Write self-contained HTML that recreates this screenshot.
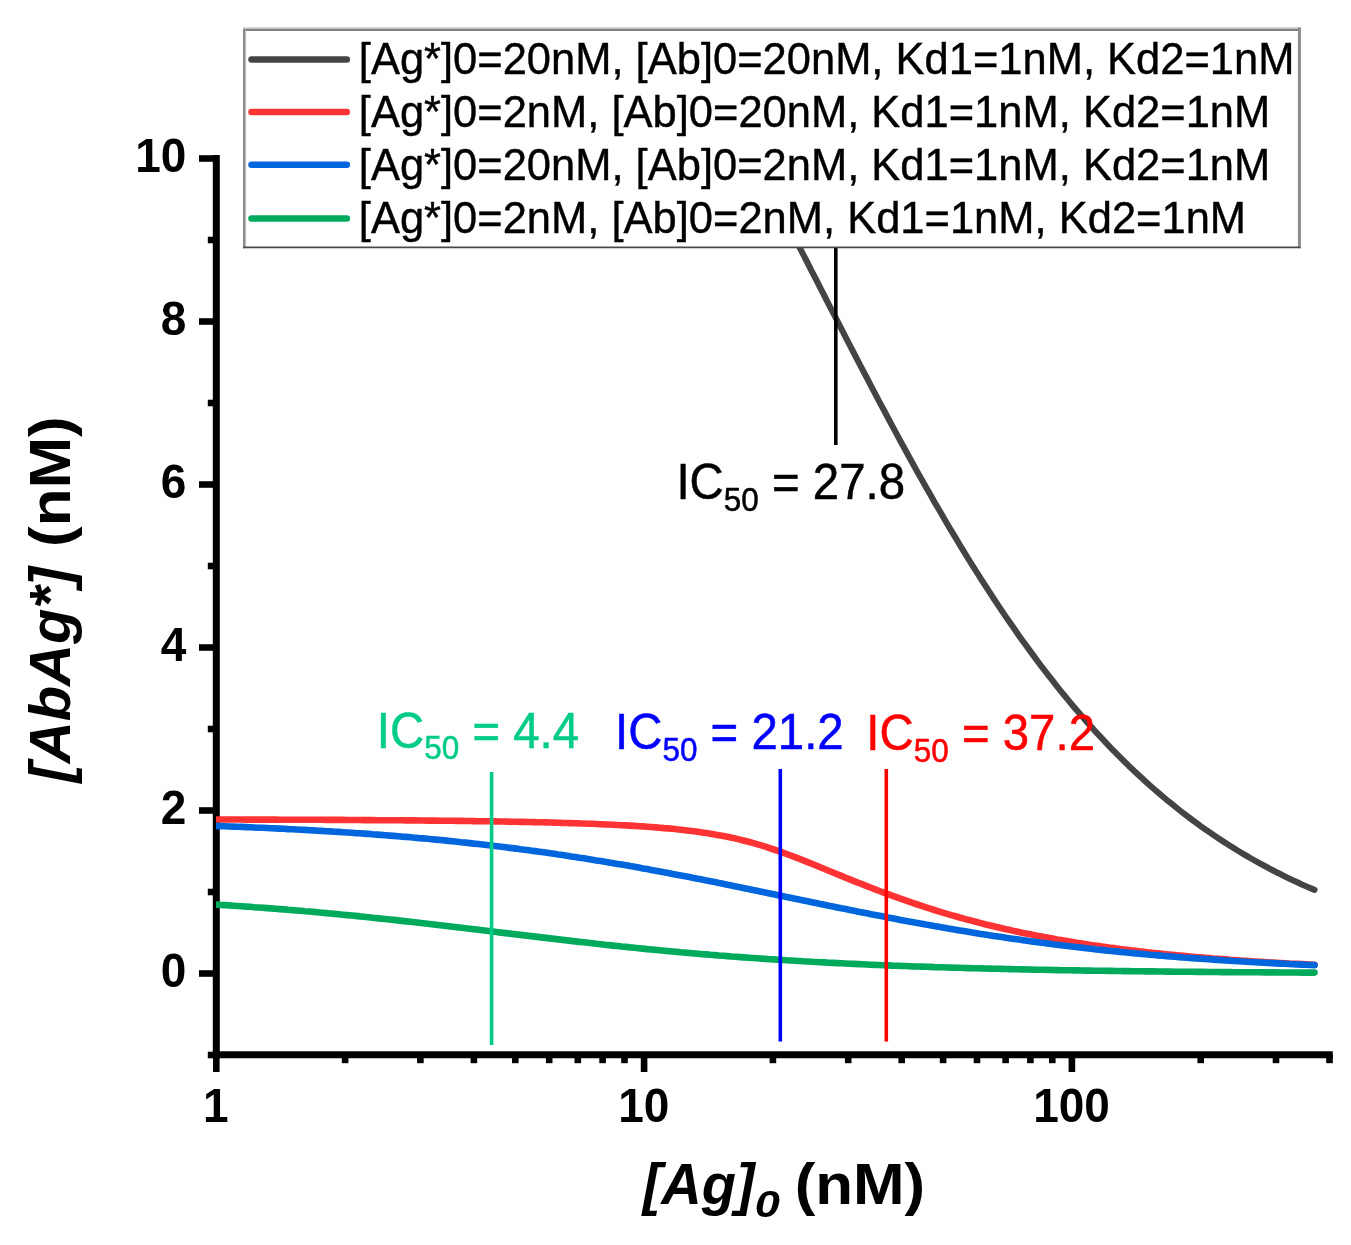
<!DOCTYPE html>
<html lang="en"><head><meta charset="utf-8"><title>Competitive binding curves</title>
<style>
html,body{margin:0;padding:0;background:#fff;}
body{width:1351px;height:1245px;overflow:hidden;}
svg{display:block;}
text{font-family:"Liberation Sans",sans-serif;}
.tk{font-weight:bold;font-size:46px;fill:#000;}
.lg{font-size:43.5px;fill:#000;}
.an{font-size:47.4px;}
.sub{font-size:31.5px;}
.ttl{font-weight:bold;fill:#000;}
.it{font-style:italic;}
</style></head><body>
<svg width="1351" height="1245" viewBox="0 0 1351 1245">
<rect width="1351" height="1245" fill="#fff"/>
<g stroke="#000" fill="none">
<line x1="216.3" y1="155" x2="216.3" y2="1058.3" stroke-width="7"/>
<line x1="212.8" y1="1054.8" x2="1332.8" y2="1054.8" stroke-width="7"/>
<line x1="207.8" y1="1055.0" x2="216.3" y2="1055.0" stroke-width="6.6"/>
<line x1="199" y1="973.5" x2="216.3" y2="973.5" stroke-width="6.6"/>
<line x1="207.8" y1="892.0" x2="216.3" y2="892.0" stroke-width="6.6"/>
<line x1="199" y1="810.5" x2="216.3" y2="810.5" stroke-width="6.6"/>
<line x1="207.8" y1="729.0" x2="216.3" y2="729.0" stroke-width="6.6"/>
<line x1="199" y1="647.5" x2="216.3" y2="647.5" stroke-width="6.6"/>
<line x1="207.8" y1="566.0" x2="216.3" y2="566.0" stroke-width="6.6"/>
<line x1="199" y1="484.5" x2="216.3" y2="484.5" stroke-width="6.6"/>
<line x1="207.8" y1="403.0" x2="216.3" y2="403.0" stroke-width="6.6"/>
<line x1="199" y1="321.5" x2="216.3" y2="321.5" stroke-width="6.6"/>
<line x1="207.8" y1="240.0" x2="216.3" y2="240.0" stroke-width="6.6"/>
<line x1="199" y1="158.5" x2="216.3" y2="158.5" stroke-width="6.6"/>
<line x1="216.3" y1="1054.8" x2="216.3" y2="1072" stroke-width="6.6"/>
<line x1="345.1" y1="1054.8" x2="345.1" y2="1063.2" stroke-width="6.6"/>
<line x1="420.4" y1="1054.8" x2="420.4" y2="1063.2" stroke-width="6.6"/>
<line x1="473.9" y1="1054.8" x2="473.9" y2="1063.2" stroke-width="6.6"/>
<line x1="515.3" y1="1054.8" x2="515.3" y2="1063.2" stroke-width="6.6"/>
<line x1="549.2" y1="1054.8" x2="549.2" y2="1063.2" stroke-width="6.6"/>
<line x1="577.8" y1="1054.8" x2="577.8" y2="1063.2" stroke-width="6.6"/>
<line x1="602.6" y1="1054.8" x2="602.6" y2="1063.2" stroke-width="6.6"/>
<line x1="624.5" y1="1054.8" x2="624.5" y2="1063.2" stroke-width="6.6"/>
<line x1="644.1" y1="1054.8" x2="644.1" y2="1072" stroke-width="6.6"/>
<line x1="772.9" y1="1054.8" x2="772.9" y2="1063.2" stroke-width="6.6"/>
<line x1="848.2" y1="1054.8" x2="848.2" y2="1063.2" stroke-width="6.6"/>
<line x1="901.7" y1="1054.8" x2="901.7" y2="1063.2" stroke-width="6.6"/>
<line x1="943.1" y1="1054.8" x2="943.1" y2="1063.2" stroke-width="6.6"/>
<line x1="977.0" y1="1054.8" x2="977.0" y2="1063.2" stroke-width="6.6"/>
<line x1="1005.6" y1="1054.8" x2="1005.6" y2="1063.2" stroke-width="6.6"/>
<line x1="1030.4" y1="1054.8" x2="1030.4" y2="1063.2" stroke-width="6.6"/>
<line x1="1052.3" y1="1054.8" x2="1052.3" y2="1063.2" stroke-width="6.6"/>
<line x1="1071.9" y1="1054.8" x2="1071.9" y2="1072" stroke-width="6.6"/>
<line x1="1200.7" y1="1054.8" x2="1200.7" y2="1063.2" stroke-width="6.6"/>
<line x1="1276.0" y1="1054.8" x2="1276.0" y2="1063.2" stroke-width="6.6"/>
<line x1="1329.5" y1="1054.8" x2="1329.5" y2="1063.2" stroke-width="6.6"/>
</g>
<defs><clipPath id="cp"><rect x="215.9" y="150" width="1130" height="905"/></clipPath></defs>
<g fill="none" stroke-width="6.6" stroke-linecap="round" stroke-linejoin="round" clip-path="url(#cp)">
<path stroke="#444" stroke-width="6.1" d="M216.3,-300.8 L220.5,-300.1 L224.7,-299.4 L229.0,-298.7 L233.2,-297.9 L237.4,-297.1 L241.6,-296.4 L245.9,-295.6 L250.1,-294.7 L254.3,-293.9 L258.5,-293.0 L262.8,-292.1 L267.0,-291.2 L271.2,-290.3 L275.4,-289.4 L279.7,-288.4 L283.9,-287.4 L288.1,-286.4 L292.3,-285.3 L296.6,-284.3 L300.8,-283.2 L305.0,-282.0 L309.2,-280.9 L313.4,-279.7 L317.7,-278.5 L321.9,-277.3 L326.1,-276.0 L330.3,-274.7 L334.6,-273.4 L338.8,-272.0 L343.0,-270.7 L347.2,-269.2 L351.5,-267.8 L355.7,-266.3 L359.9,-264.8 L364.1,-263.2 L368.4,-261.6 L372.6,-260.0 L376.8,-258.3 L381.0,-256.6 L385.2,-254.8 L389.5,-253.0 L393.7,-251.2 L397.9,-249.3 L402.1,-247.3 L406.4,-245.4 L410.6,-243.3 L414.8,-241.3 L419.0,-239.1 L423.3,-237.0 L427.5,-234.7 L431.7,-232.5 L435.9,-230.1 L440.2,-227.8 L444.4,-225.3 L448.6,-222.8 L452.8,-220.3 L457.1,-217.7 L461.3,-215.0 L465.5,-212.3 L469.7,-209.5 L473.9,-206.6 L478.2,-203.7 L482.4,-200.7 L486.6,-197.6 L490.8,-194.5 L495.1,-191.3 L499.3,-188.0 L503.5,-184.7 L507.7,-181.3 L512.0,-177.8 L516.2,-174.3 L520.4,-170.6 L524.6,-166.9 L528.9,-163.1 L533.1,-159.2 L537.3,-155.3 L541.5,-151.3 L545.8,-147.2 L550.0,-143.0 L554.2,-138.7 L558.4,-134.3 L562.6,-129.9 L566.9,-125.3 L571.1,-120.7 L575.3,-116.0 L579.5,-111.2 L583.8,-106.3 L588.0,-101.4 L592.2,-96.3 L596.4,-91.1 L600.7,-85.9 L604.9,-80.6 L609.1,-75.2 L613.3,-69.7 L617.6,-64.1 L621.8,-58.4 L626.0,-52.6 L630.2,-46.7 L634.5,-40.8 L638.7,-34.7 L642.9,-28.6 L647.1,-22.4 L651.3,-16.1 L655.6,-9.7 L659.8,-3.2 L664.0,3.3 L668.2,10.0 L672.5,16.7 L676.7,23.5 L680.9,30.3 L685.1,37.3 L689.4,44.3 L693.6,51.4 L697.8,58.6 L702.0,65.8 L706.3,73.1 L710.5,80.5 L714.7,87.9 L718.9,95.4 L723.1,103.0 L727.4,110.6 L731.6,118.3 L735.8,126.0 L740.0,133.8 L744.3,141.6 L748.5,149.5 L752.7,157.4 L756.9,165.3 L761.2,173.3 L765.4,181.4 L769.6,189.4 L773.8,197.5 L778.1,205.6 L782.3,213.8 L786.5,222.0 L790.7,230.1 L795.0,238.3 L799.2,246.6 L803.4,254.8 L807.6,263.0 L811.8,271.3 L816.1,279.5 L820.3,287.8 L824.5,296.0 L828.7,304.3 L833.0,312.5 L837.2,320.7 L841.4,328.9 L845.6,337.1 L849.9,345.3 L854.1,353.5 L858.3,361.6 L862.5,369.7 L866.8,377.8 L871.0,385.8 L875.2,393.9 L879.4,401.9 L883.7,409.8 L887.9,417.7 L892.1,425.6 L896.3,433.4 L900.5,441.2 L904.8,449.0 L909.0,456.7 L913.2,464.3 L917.4,471.9 L921.7,479.4 L925.9,486.9 L930.1,494.3 L934.3,501.7 L938.6,509.0 L942.8,516.3 L947.0,523.5 L951.2,530.6 L955.5,537.7 L959.7,544.7 L963.9,551.6 L968.1,558.5 L972.4,565.3 L976.6,572.0 L980.8,578.6 L985.0,585.2 L989.2,591.7 L993.5,598.2 L997.7,604.6 L1001.9,610.9 L1006.1,617.1 L1010.4,623.3 L1014.6,629.3 L1018.8,635.4 L1023.0,641.3 L1027.3,647.1 L1031.5,652.9 L1035.7,658.6 L1039.9,664.3 L1044.2,669.8 L1048.4,675.3 L1052.6,680.7 L1056.8,686.1 L1061.0,691.3 L1065.3,696.5 L1069.5,701.6 L1073.7,706.7 L1077.9,711.6 L1082.2,716.5 L1086.4,721.4 L1090.6,726.1 L1094.8,730.8 L1099.1,735.4 L1103.3,739.9 L1107.5,744.4 L1111.7,748.8 L1116.0,753.1 L1120.2,757.4 L1124.4,761.5 L1128.6,765.7 L1132.9,769.7 L1137.1,773.7 L1141.3,777.6 L1145.5,781.5 L1149.7,785.3 L1154.0,789.0 L1158.2,792.6 L1162.4,796.2 L1166.6,799.8 L1170.9,803.2 L1175.1,806.6 L1179.3,810.0 L1183.5,813.3 L1187.8,816.5 L1192.0,819.7 L1196.2,822.8 L1200.4,825.9 L1204.7,828.9 L1208.9,831.8 L1213.1,834.7 L1217.3,837.6 L1221.6,840.4 L1225.8,843.1 L1230.0,845.8 L1234.2,848.4 L1238.4,851.0 L1242.7,853.6 L1246.9,856.0 L1251.1,858.5 L1255.3,860.9 L1259.6,863.2 L1263.8,865.5 L1268.0,867.8 L1272.2,870.0 L1276.5,872.2 L1280.7,874.3 L1284.9,876.4 L1289.1,878.5 L1293.4,880.5 L1297.6,882.4 L1301.8,884.4 L1306.0,886.3 L1310.3,888.1 L1314.5,889.9"/>
<path stroke="#ff3333" d="M216.3,819.5 L220.5,819.5 L224.7,819.5 L229.0,819.5 L233.2,819.5 L237.4,819.5 L241.6,819.5 L245.9,819.6 L250.1,819.6 L254.3,819.6 L258.5,819.6 L262.8,819.6 L267.0,819.6 L271.2,819.6 L275.4,819.6 L279.7,819.7 L283.9,819.7 L288.1,819.7 L292.3,819.7 L296.6,819.7 L300.8,819.7 L305.0,819.8 L309.2,819.8 L313.4,819.8 L317.7,819.8 L321.9,819.8 L326.1,819.9 L330.3,819.9 L334.6,819.9 L338.8,819.9 L343.0,819.9 L347.2,820.0 L351.5,820.0 L355.7,820.0 L359.9,820.0 L364.1,820.1 L368.4,820.1 L372.6,820.1 L376.8,820.2 L381.0,820.2 L385.2,820.2 L389.5,820.2 L393.7,820.3 L397.9,820.3 L402.1,820.3 L406.4,820.4 L410.6,820.4 L414.8,820.4 L419.0,820.5 L423.3,820.5 L427.5,820.6 L431.7,820.6 L435.9,820.6 L440.2,820.7 L444.4,820.7 L448.6,820.8 L452.8,820.8 L457.1,820.9 L461.3,820.9 L465.5,821.0 L469.7,821.0 L473.9,821.1 L478.2,821.2 L482.4,821.2 L486.6,821.3 L490.8,821.3 L495.1,821.4 L499.3,821.5 L503.5,821.5 L507.7,821.6 L512.0,821.7 L516.2,821.8 L520.4,821.9 L524.6,821.9 L528.9,822.0 L533.1,822.1 L537.3,822.2 L541.5,822.3 L545.8,822.4 L550.0,822.5 L554.2,822.6 L558.4,822.7 L562.6,822.9 L566.9,823.0 L571.1,823.1 L575.3,823.2 L579.5,823.4 L583.8,823.5 L588.0,823.7 L592.2,823.8 L596.4,824.0 L600.7,824.2 L604.9,824.4 L609.1,824.5 L613.3,824.7 L617.6,825.0 L621.8,825.2 L626.0,825.4 L630.2,825.6 L634.5,825.9 L638.7,826.2 L642.9,826.4 L647.1,826.7 L651.3,827.0 L655.6,827.4 L659.8,827.7 L664.0,828.1 L668.2,828.4 L672.5,828.8 L676.7,829.3 L680.9,829.7 L685.1,830.2 L689.4,830.7 L693.6,831.2 L697.8,831.8 L702.0,832.4 L706.3,833.0 L710.5,833.7 L714.7,834.4 L718.9,835.2 L723.1,836.0 L727.4,836.8 L731.6,837.7 L735.8,838.6 L740.0,839.6 L744.3,840.7 L748.5,841.8 L752.7,842.9 L756.9,844.1 L761.2,845.4 L765.4,846.7 L769.6,848.1 L773.8,849.5 L778.1,850.9 L782.3,852.4 L786.5,854.0 L790.7,855.5 L795.0,857.1 L799.2,858.8 L803.4,860.4 L807.6,862.1 L811.8,863.8 L816.1,865.5 L820.3,867.3 L824.5,869.0 L828.7,870.7 L833.0,872.5 L837.2,874.2 L841.4,875.9 L845.6,877.7 L849.9,879.4 L854.1,881.1 L858.3,882.8 L862.5,884.4 L866.8,886.1 L871.0,887.8 L875.2,889.4 L879.4,891.0 L883.7,892.6 L887.9,894.2 L892.1,895.7 L896.3,897.2 L900.5,898.7 L904.8,900.2 L909.0,901.7 L913.2,903.1 L917.4,904.5 L921.7,905.9 L925.9,907.3 L930.1,908.7 L934.3,910.0 L938.6,911.3 L942.8,912.6 L947.0,913.8 L951.2,915.1 L955.5,916.3 L959.7,917.5 L963.9,918.6 L968.1,919.8 L972.4,920.9 L976.6,922.0 L980.8,923.1 L985.0,924.2 L989.2,925.2 L993.5,926.2 L997.7,927.2 L1001.9,928.2 L1006.1,929.2 L1010.4,930.1 L1014.6,931.1 L1018.8,932.0 L1023.0,932.9 L1027.3,933.7 L1031.5,934.6 L1035.7,935.4 L1039.9,936.2 L1044.2,937.0 L1048.4,937.8 L1052.6,938.6 L1056.8,939.4 L1061.0,940.1 L1065.3,940.8 L1069.5,941.5 L1073.7,942.2 L1077.9,942.9 L1082.2,943.6 L1086.4,944.2 L1090.6,944.9 L1094.8,945.5 L1099.1,946.1 L1103.3,946.7 L1107.5,947.3 L1111.7,947.9 L1116.0,948.4 L1120.2,949.0 L1124.4,949.5 L1128.6,950.0 L1132.9,950.5 L1137.1,951.0 L1141.3,951.5 L1145.5,952.0 L1149.7,952.5 L1154.0,953.0 L1158.2,953.4 L1162.4,953.9 L1166.6,954.3 L1170.9,954.7 L1175.1,955.1 L1179.3,955.5 L1183.5,955.9 L1187.8,956.3 L1192.0,956.7 L1196.2,957.1 L1200.4,957.4 L1204.7,957.8 L1208.9,958.1 L1213.1,958.5 L1217.3,958.8 L1221.6,959.1 L1225.8,959.4 L1230.0,959.8 L1234.2,960.1 L1238.4,960.4 L1242.7,960.7 L1246.9,960.9 L1251.1,961.2 L1255.3,961.5 L1259.6,961.8 L1263.8,962.0 L1268.0,962.3 L1272.2,962.5 L1276.5,962.8 L1280.7,963.0 L1284.9,963.2 L1289.1,963.5 L1293.4,963.7 L1297.6,963.9 L1301.8,964.1 L1306.0,964.3 L1310.3,964.5 L1314.5,964.7"/>
<path stroke="#0066dd" d="M216.3,826.0 L220.5,826.1 L224.7,826.3 L229.0,826.5 L233.2,826.6 L237.4,826.8 L241.6,826.9 L245.9,827.1 L250.1,827.3 L254.3,827.5 L258.5,827.7 L262.8,827.8 L267.0,828.0 L271.2,828.2 L275.4,828.4 L279.7,828.6 L283.9,828.8 L288.1,829.1 L292.3,829.3 L296.6,829.5 L300.8,829.7 L305.0,829.9 L309.2,830.2 L313.4,830.4 L317.7,830.7 L321.9,830.9 L326.1,831.2 L330.3,831.4 L334.6,831.7 L338.8,831.9 L343.0,832.2 L347.2,832.5 L351.5,832.8 L355.7,833.1 L359.9,833.3 L364.1,833.6 L368.4,833.9 L372.6,834.3 L376.8,834.6 L381.0,834.9 L385.2,835.2 L389.5,835.6 L393.7,835.9 L397.9,836.2 L402.1,836.6 L406.4,836.9 L410.6,837.3 L414.8,837.7 L419.0,838.1 L423.3,838.4 L427.5,838.8 L431.7,839.2 L435.9,839.6 L440.2,840.0 L444.4,840.4 L448.6,840.9 L452.8,841.3 L457.1,841.7 L461.3,842.2 L465.5,842.6 L469.7,843.1 L473.9,843.6 L478.2,844.0 L482.4,844.5 L486.6,845.0 L490.8,845.5 L495.1,846.0 L499.3,846.5 L503.5,847.0 L507.7,847.6 L512.0,848.1 L516.2,848.6 L520.4,849.2 L524.6,849.7 L528.9,850.3 L533.1,850.9 L537.3,851.4 L541.5,852.0 L545.8,852.6 L550.0,853.2 L554.2,853.8 L558.4,854.5 L562.6,855.1 L566.9,855.7 L571.1,856.4 L575.3,857.0 L579.5,857.7 L583.8,858.3 L588.0,859.0 L592.2,859.7 L596.4,860.4 L600.7,861.0 L604.9,861.7 L609.1,862.5 L613.3,863.2 L617.6,863.9 L621.8,864.6 L626.0,865.3 L630.2,866.1 L634.5,866.8 L638.7,867.6 L642.9,868.4 L647.1,869.1 L651.3,869.9 L655.6,870.7 L659.8,871.5 L664.0,872.3 L668.2,873.0 L672.5,873.9 L676.7,874.7 L680.9,875.5 L685.1,876.3 L689.4,877.1 L693.6,877.9 L697.8,878.8 L702.0,879.6 L706.3,880.4 L710.5,881.3 L714.7,882.1 L718.9,883.0 L723.1,883.8 L727.4,884.7 L731.6,885.6 L735.8,886.4 L740.0,887.3 L744.3,888.2 L748.5,889.0 L752.7,889.9 L756.9,890.8 L761.2,891.7 L765.4,892.5 L769.6,893.4 L773.8,894.3 L778.1,895.2 L782.3,896.0 L786.5,896.9 L790.7,897.8 L795.0,898.7 L799.2,899.6 L803.4,900.4 L807.6,901.3 L811.8,902.2 L816.1,903.1 L820.3,903.9 L824.5,904.8 L828.7,905.7 L833.0,906.5 L837.2,907.4 L841.4,908.3 L845.6,909.1 L849.9,910.0 L854.1,910.8 L858.3,911.7 L862.5,912.5 L866.8,913.3 L871.0,914.2 L875.2,915.0 L879.4,915.8 L883.7,916.6 L887.9,917.5 L892.1,918.3 L896.3,919.1 L900.5,919.9 L904.8,920.7 L909.0,921.5 L913.2,922.2 L917.4,923.0 L921.7,923.8 L925.9,924.6 L930.1,925.3 L934.3,926.1 L938.6,926.8 L942.8,927.5 L947.0,928.3 L951.2,929.0 L955.5,929.7 L959.7,930.4 L963.9,931.1 L968.1,931.8 L972.4,932.5 L976.6,933.2 L980.8,933.9 L985.0,934.5 L989.2,935.2 L993.5,935.9 L997.7,936.5 L1001.9,937.1 L1006.1,937.8 L1010.4,938.4 L1014.6,939.0 L1018.8,939.6 L1023.0,940.2 L1027.3,940.8 L1031.5,941.4 L1035.7,941.9 L1039.9,942.5 L1044.2,943.1 L1048.4,943.6 L1052.6,944.2 L1056.8,944.7 L1061.0,945.2 L1065.3,945.8 L1069.5,946.3 L1073.7,946.8 L1077.9,947.3 L1082.2,947.8 L1086.4,948.3 L1090.6,948.7 L1094.8,949.2 L1099.1,949.7 L1103.3,950.1 L1107.5,950.6 L1111.7,951.0 L1116.0,951.4 L1120.2,951.9 L1124.4,952.3 L1128.6,952.7 L1132.9,953.1 L1137.1,953.5 L1141.3,953.9 L1145.5,954.3 L1149.7,954.7 L1154.0,955.0 L1158.2,955.4 L1162.4,955.8 L1166.6,956.1 L1170.9,956.5 L1175.1,956.8 L1179.3,957.1 L1183.5,957.5 L1187.8,957.8 L1192.0,958.1 L1196.2,958.4 L1200.4,958.7 L1204.7,959.0 L1208.9,959.3 L1213.1,959.6 L1217.3,959.9 L1221.6,960.2 L1225.8,960.5 L1230.0,960.7 L1234.2,961.0 L1238.4,961.2 L1242.7,961.5 L1246.9,961.8 L1251.1,962.0 L1255.3,962.2 L1259.6,962.5 L1263.8,962.7 L1268.0,962.9 L1272.2,963.1 L1276.5,963.4 L1280.7,963.6 L1284.9,963.8 L1289.1,964.0 L1293.4,964.2 L1297.6,964.4 L1301.8,964.6 L1306.0,964.8 L1310.3,965.0 L1314.5,965.1"/>
<path stroke="#00aa5c" d="M216.3,904.6 L220.5,904.9 L224.7,905.1 L229.0,905.4 L233.2,905.7 L237.4,906.0 L241.6,906.3 L245.9,906.6 L250.1,906.8 L254.3,907.2 L258.5,907.5 L262.8,907.8 L267.0,908.1 L271.2,908.4 L275.4,908.7 L279.7,909.1 L283.9,909.4 L288.1,909.8 L292.3,910.1 L296.6,910.5 L300.8,910.8 L305.0,911.2 L309.2,911.5 L313.4,911.9 L317.7,912.3 L321.9,912.7 L326.1,913.1 L330.3,913.5 L334.6,913.9 L338.8,914.3 L343.0,914.7 L347.2,915.1 L351.5,915.5 L355.7,915.9 L359.9,916.4 L364.1,916.8 L368.4,917.2 L372.6,917.7 L376.8,918.1 L381.0,918.6 L385.2,919.0 L389.5,919.5 L393.7,919.9 L397.9,920.4 L402.1,920.9 L406.4,921.4 L410.6,921.8 L414.8,922.3 L419.0,922.8 L423.3,923.3 L427.5,923.8 L431.7,924.3 L435.9,924.8 L440.2,925.3 L444.4,925.8 L448.6,926.3 L452.8,926.8 L457.1,927.3 L461.3,927.8 L465.5,928.3 L469.7,928.8 L473.9,929.3 L478.2,929.8 L482.4,930.3 L486.6,930.8 L490.8,931.3 L495.1,931.8 L499.3,932.4 L503.5,932.9 L507.7,933.4 L512.0,933.9 L516.2,934.4 L520.4,934.9 L524.6,935.4 L528.9,935.9 L533.1,936.4 L537.3,936.9 L541.5,937.4 L545.8,937.9 L550.0,938.4 L554.2,938.9 L558.4,939.4 L562.6,939.9 L566.9,940.4 L571.1,940.9 L575.3,941.4 L579.5,941.9 L583.8,942.3 L588.0,942.8 L592.2,943.3 L596.4,943.8 L600.7,944.2 L604.9,944.7 L609.1,945.1 L613.3,945.6 L617.6,946.0 L621.8,946.5 L626.0,946.9 L630.2,947.4 L634.5,947.8 L638.7,948.2 L642.9,948.6 L647.1,949.1 L651.3,949.5 L655.6,949.9 L659.8,950.3 L664.0,950.7 L668.2,951.1 L672.5,951.5 L676.7,951.9 L680.9,952.3 L685.1,952.6 L689.4,953.0 L693.6,953.4 L697.8,953.7 L702.0,954.1 L706.3,954.4 L710.5,954.8 L714.7,955.1 L718.9,955.5 L723.1,955.8 L727.4,956.1 L731.6,956.5 L735.8,956.8 L740.0,957.1 L744.3,957.4 L748.5,957.7 L752.7,958.0 L756.9,958.3 L761.2,958.6 L765.4,958.9 L769.6,959.2 L773.8,959.4 L778.1,959.7 L782.3,960.0 L786.5,960.3 L790.7,960.5 L795.0,960.8 L799.2,961.0 L803.4,961.3 L807.6,961.5 L811.8,961.8 L816.1,962.0 L820.3,962.2 L824.5,962.4 L828.7,962.7 L833.0,962.9 L837.2,963.1 L841.4,963.3 L845.6,963.5 L849.9,963.7 L854.1,963.9 L858.3,964.1 L862.5,964.3 L866.8,964.5 L871.0,964.7 L875.2,964.9 L879.4,965.0 L883.7,965.2 L887.9,965.4 L892.1,965.6 L896.3,965.7 L900.5,965.9 L904.8,966.0 L909.0,966.2 L913.2,966.4 L917.4,966.5 L921.7,966.6 L925.9,966.8 L930.1,966.9 L934.3,967.1 L938.6,967.2 L942.8,967.3 L947.0,967.5 L951.2,967.6 L955.5,967.7 L959.7,967.8 L963.9,968.0 L968.1,968.1 L972.4,968.2 L976.6,968.3 L980.8,968.4 L985.0,968.5 L989.2,968.6 L993.5,968.7 L997.7,968.8 L1001.9,968.9 L1006.1,969.0 L1010.4,969.1 L1014.6,969.2 L1018.8,969.3 L1023.0,969.4 L1027.3,969.5 L1031.5,969.6 L1035.7,969.7 L1039.9,969.8 L1044.2,969.8 L1048.4,969.9 L1052.6,970.0 L1056.8,970.1 L1061.0,970.2 L1065.3,970.2 L1069.5,970.3 L1073.7,970.4 L1077.9,970.4 L1082.2,970.5 L1086.4,970.6 L1090.6,970.6 L1094.8,970.7 L1099.1,970.8 L1103.3,970.8 L1107.5,970.9 L1111.7,970.9 L1116.0,971.0 L1120.2,971.0 L1124.4,971.1 L1128.6,971.1 L1132.9,971.2 L1137.1,971.3 L1141.3,971.3 L1145.5,971.4 L1149.7,971.4 L1154.0,971.4 L1158.2,971.5 L1162.4,971.5 L1166.6,971.6 L1170.9,971.6 L1175.1,971.7 L1179.3,971.7 L1183.5,971.7 L1187.8,971.8 L1192.0,971.8 L1196.2,971.9 L1200.4,971.9 L1204.7,971.9 L1208.9,972.0 L1213.1,972.0 L1217.3,972.0 L1221.6,972.1 L1225.8,972.1 L1230.0,972.1 L1234.2,972.2 L1238.4,972.2 L1242.7,972.2 L1246.9,972.2 L1251.1,972.3 L1255.3,972.3 L1259.6,972.3 L1263.8,972.4 L1268.0,972.4 L1272.2,972.4 L1276.5,972.4 L1280.7,972.5 L1284.9,972.5 L1289.1,972.5 L1293.4,972.5 L1297.6,972.5 L1301.8,972.6 L1306.0,972.6 L1310.3,972.6 L1314.5,972.6"/>
</g>
<g stroke-width="3.6" fill="none">
<line x1="835.8" y1="240" x2="835.8" y2="445" stroke="#000"/>
<line x1="491.6" y1="772" x2="491.6" y2="1045" stroke="#00cc88"/>
<line x1="780.3" y1="769" x2="780.3" y2="1041.5" stroke="#0000ff"/>
<line x1="886.3" y1="769" x2="886.3" y2="1041.5" stroke="#ff0000"/>
</g>
<text class="tk" transform="translate(186.3,987.1) scale(1,1.045)" text-anchor="end">0</text>
<text class="tk" transform="translate(186.3,824.1) scale(1,1.045)" text-anchor="end">2</text>
<text class="tk" transform="translate(186.3,661.1) scale(1,1.045)" text-anchor="end">4</text>
<text class="tk" transform="translate(186.3,498.1) scale(1,1.045)" text-anchor="end">6</text>
<text class="tk" transform="translate(186.3,335.1) scale(1,1.045)" text-anchor="end">8</text>
<text class="tk" transform="translate(186.3,172.1) scale(1,1.045)" text-anchor="end">10</text>
<text class="tk" transform="translate(215.9,1121.9) scale(1,1.045)" text-anchor="middle">1</text>
<text class="tk" transform="translate(643.7,1121.9) scale(1,1.045)" text-anchor="middle">10</text>
<text class="tk" transform="translate(1071.5,1121.9) scale(1,1.045)" text-anchor="middle">100</text>
<rect x="243" y="28" width="1057" height="220" fill="#fff"/>
<g fill="none">
<line x1="243.1" y1="28.1" x2="1300.9" y2="28.1" stroke="#c6c6c6" stroke-width="1.8"/>
<line x1="243.1" y1="29.95" x2="1300.9" y2="29.95" stroke="#808080" stroke-width="1.9"/>
<line x1="245.5" y1="30" x2="245.5" y2="247" stroke="#bcbcbc" stroke-width="1.2"/>
<line x1="244" y1="29" x2="244" y2="248.2" stroke="#808080" stroke-width="1.8"/>
<line x1="1299.4" y1="27.5" x2="1299.4" y2="248.2" stroke="#8c8c8c" stroke-width="3"/>
<line x1="243.1" y1="247.4" x2="1300.5" y2="247.4" stroke="#4a4a4a" stroke-width="1.6"/>
</g>
<line x1="251.5" y1="59.4" x2="346.8" y2="59.4" stroke="#444" stroke-width="6.5" stroke-linecap="round"/>
<text class="lg" transform="translate(358.8,73.7) scale(1,1.041)" stroke="#000" stroke-width="0.4">[Ag*]0=20nM, [Ab]0=20nM, Kd1=1nM, Kd2=1nM</text>
<line x1="251.5" y1="112.0" x2="346.8" y2="112.0" stroke="#ff3333" stroke-width="6.5" stroke-linecap="round"/>
<text class="lg" transform="translate(358.8,126.9) scale(1,1.041)" stroke="#000" stroke-width="0.4">[Ag*]0=2nM, [Ab]0=20nM, Kd1=1nM, Kd2=1nM</text>
<line x1="251.5" y1="164.8" x2="346.8" y2="164.8" stroke="#0066dd" stroke-width="6.5" stroke-linecap="round"/>
<text class="lg" transform="translate(358.8,179.6) scale(1,1.041)" stroke="#000" stroke-width="0.4">[Ag*]0=20nM, [Ab]0=2nM, Kd1=1nM, Kd2=1nM</text>
<line x1="251.5" y1="218.4" x2="346.8" y2="218.4" stroke="#00aa5c" stroke-width="6.5" stroke-linecap="round"/>
<text class="lg" transform="translate(358.8,232.9) scale(1,1.041)" stroke="#000" stroke-width="0.4">[Ag*]0=2nM, [Ab]0=2nM, Kd1=1nM, Kd2=1nM</text>
<text class="an" transform="translate(676.4,499.4) scale(1,1.041)" fill="#000" stroke="#000" stroke-width="0.5">IC<tspan class="sub" dy="11.5">50</tspan><tspan dy="-11.5"> = 27.8</tspan></text>
<text class="an" transform="translate(376.8,747.5) scale(1,1.041)" fill="#00cc88" stroke="#00cc88" stroke-width="0.5">IC<tspan class="sub" dy="11.5">50</tspan><tspan dy="-11.5"> = 4.4</tspan></text>
<text class="an" transform="translate(615.0,749.2) scale(1,1.041)" fill="#0000ff" stroke="#0000ff" stroke-width="0.5">IC<tspan class="sub" dy="11.5">50</tspan><tspan dy="-11.5"> = 21.2</tspan></text>
<text class="an" transform="translate(866.3,749.8) scale(1,1.041)" fill="#ff0000" stroke="#ff0000" stroke-width="0.5">IC<tspan class="sub" dy="11.5">50</tspan><tspan dy="-11.5"> = 37.2</tspan></text>
<text class="ttl it" font-size="57" transform="translate(642.7,1204.2) scale(0.9825,1.017)">[Ag]</text>
<text class="ttl it" font-size="37" transform="translate(754.7,1217.1) scale(1.22,1.016)">0</text>
<text class="ttl" font-size="57" transform="translate(794.7,1204.2) scale(1.085,1.017)">(nM)</text>
<text class="ttl it" font-size="57" transform="translate(69.8,782.5) rotate(-90) scale(1.0168,1.017)">[AbAg*]</text>
<text class="ttl" font-size="57" transform="translate(69.8,546.9) rotate(-90) scale(1.085,1.017)">(nM)</text>
</svg></body></html>
